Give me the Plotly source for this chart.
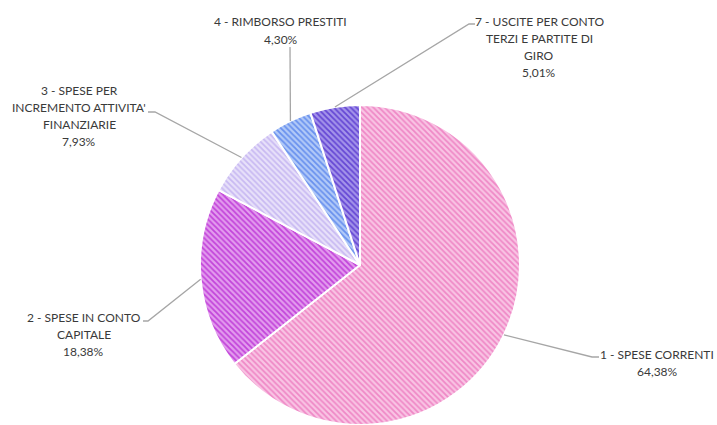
import math
import plotly.graph_objects as go

labels = ["1 - SPESE CORRENTI", "2 - SPESE IN CONTO CAPITALE",
          "3 - SPESE PER INCREMENTO ATTIVITA' FINANZIARIE",
          "4 - RIMBORSO PRESTITI", "7 - USCITE PER CONTO TERZI E PARTITE DI GIRO"]
values = [64.38, 18.38, 7.93, 4.30, 5.01]
label_lines = [["1 - SPESE CORRENTI", "64,38%"],
               ["2 - SPESE IN CONTO", "CAPITALE", "18,38%"],
               ["3 - SPESE PER", "INCREMENTO ATTIVITA'", "FINANZIARIE", "7,93%"],
               ["4 - RIMBORSO PRESTITI", "4,30%"],
               ["7 - USCITE PER CONTO", "TERZI E PARTITE DI", "GIRO", "5,01%"]]
bg_colors = ["#F9C4E4", "#E39CEE", "#E8E1FA", "#B2CAF8", "#A494EA"]
fg_colors = ["#EF88C6", "#C244DA", "#C8B9F2", "#6890EE", "#6446D4"]

W, H = 717, 425
cx, cy, R = 360, 265, 160  # pie geometry in pixels
LINE_H = 17.3

# label layout: center x and first-line y (pixels), leader elbows
label_pos = [(657, 354), (83.5, 317), (79, 90), (280.5, 22), (539, 21)]
elbows = [((592, 357), (599, 357)), ((148, 321), (143, 321)),
          ((155, 112), (148, 112)), ((290, 47), (290, 47)),
          ((469, 24), (475, 24))]

fig = go.Figure(go.Pie(
    labels=labels, values=values, sort=False, direction="clockwise",
    rotation=0, textinfo="none", hoverinfo="label+percent",
    marker=dict(colors=bg_colors, line=dict(color="white", width=2),
                pattern=dict(shape="\\", fillmode="replace", bgcolor=bg_colors,
                             fgcolor=fg_colors, size=4, solidity=0.45)),
    domain=dict(x=[(cx - R) / W, (cx + R) / W], y=[(H - cy - R) / H, (H - cy + R) / H]),
    showlegend=False,
))

def px(x):
    return x / W

def py(y):
    return 1 - y / H

total = sum(values)
cum = 0
shapes = []
annotations = []
for i, v in enumerate(values):
    mid = (cum + v / 2) / total * 2 * math.pi
    cum += v
    ex = cx + R * math.sin(mid)
    ey = cy - R * math.cos(mid)
    (bx, by), (tx, ty) = elbows[i]
    path = f"M {px(ex)} {py(ey)} L {px(bx)} {py(by)} L {px(tx)} {py(ty)}"
    shapes.append(dict(type="path", xref="paper", yref="paper", path=path,
                       line=dict(color="#A6A6A6", width=1.3)))
    lx, ly = label_pos[i]
    for j, line in enumerate(label_lines[i]):
        annotations.append(dict(x=px(lx), y=py(ly + j * LINE_H), xref="paper", yref="paper",
                                text=line, showarrow=False,
                                xanchor="center", yanchor="middle", align="center",
                                font=dict(family="Lato, sans-serif",
                                          size=12, color="#3A3A3A")))

fig.update_layout(width=W, height=H, margin=dict(l=0, r=0, t=0, b=0),
                  paper_bgcolor="white", plot_bgcolor="white",
                  shapes=shapes, annotations=annotations)
fig.write_html("out.html", config={"displayModeBar": False},
               post_script="document.body.style.margin='0';document.body.style.overflow='hidden';")
